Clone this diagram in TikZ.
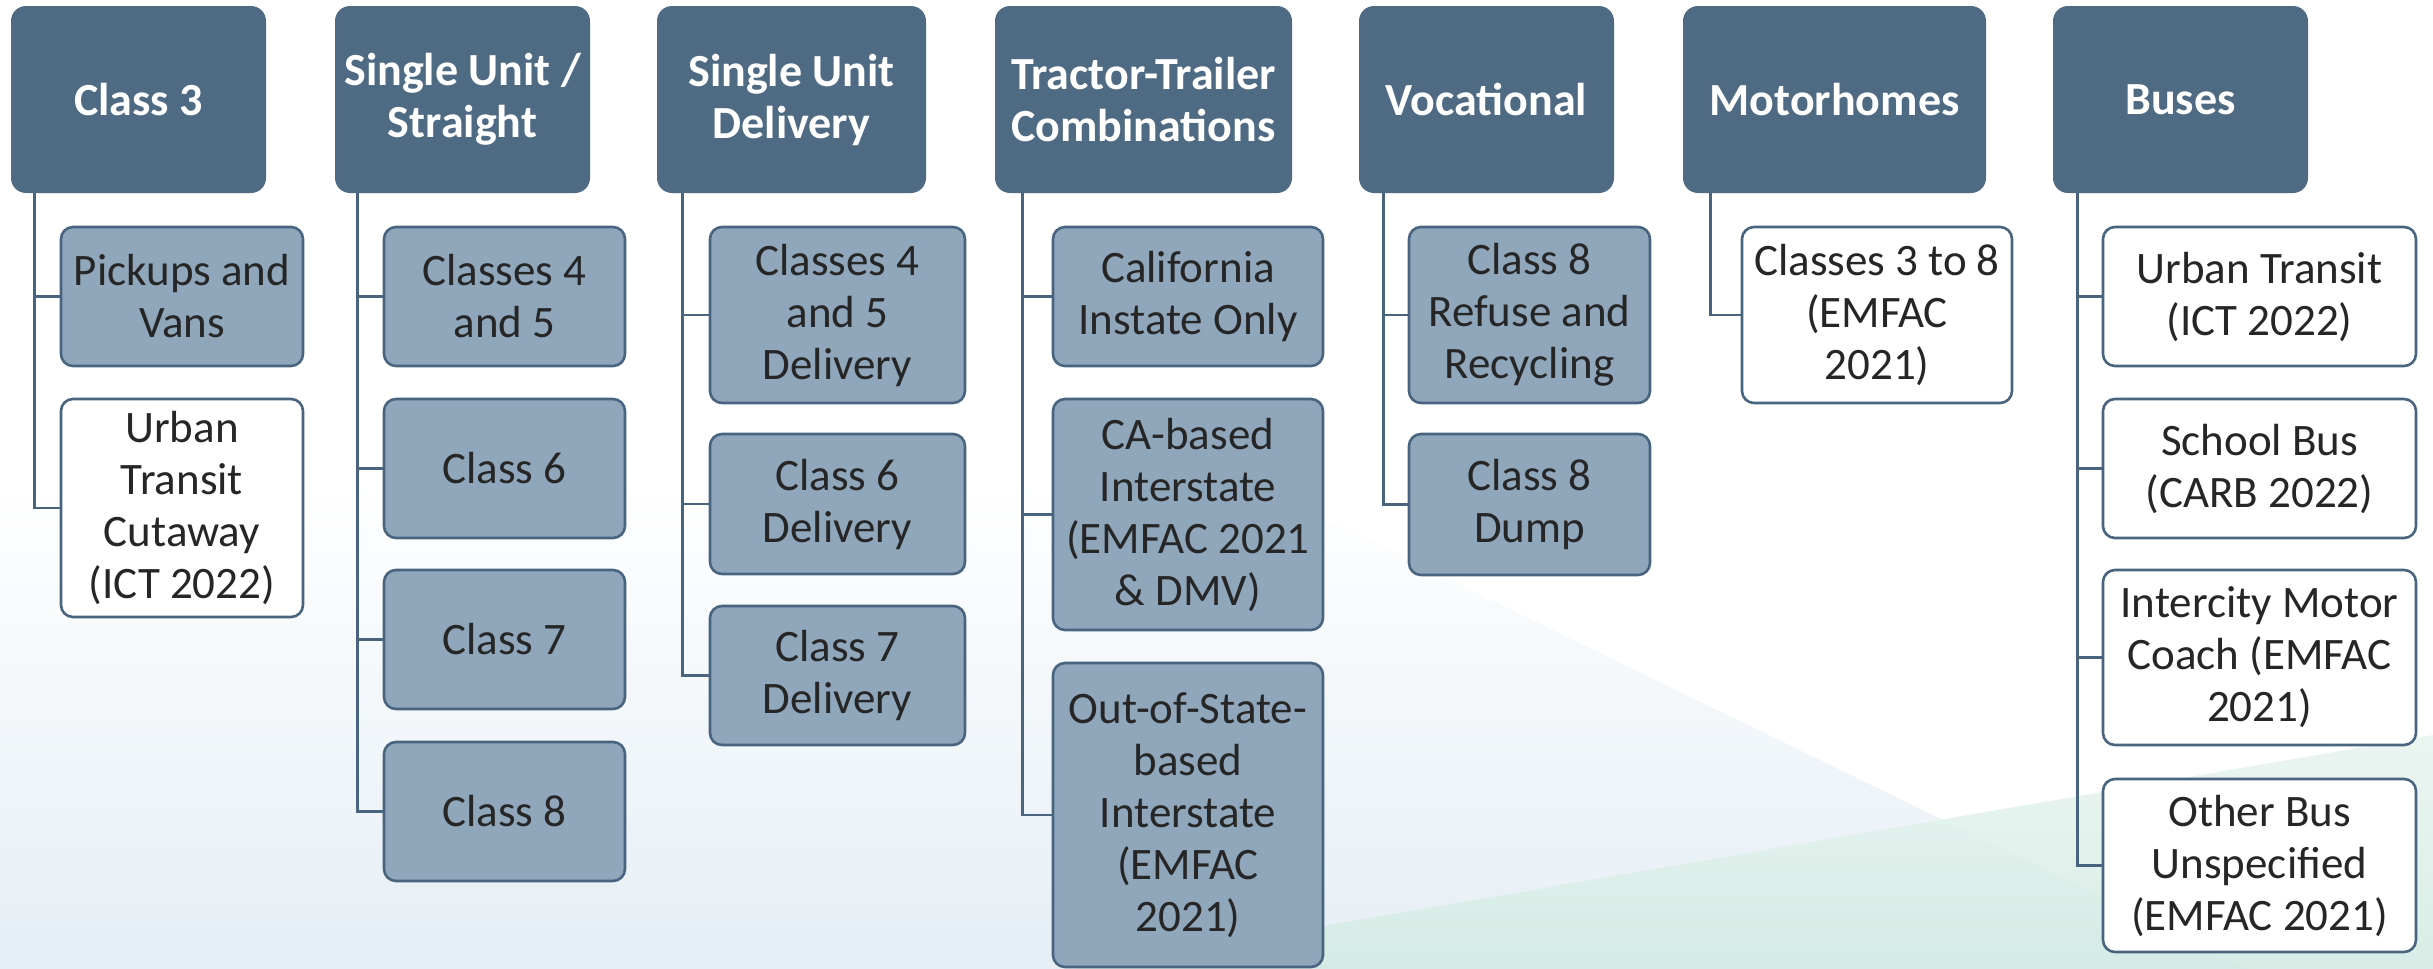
\documentclass[tikz,border=0pt]{standalone}
\usepackage{fontspec}
\setmainfont{Carlito}
\definecolor{hdrblue}{HTML}{4F6A83}
\definecolor{leafblue}{HTML}{8FA6BB}
\definecolor{edgeblue}{HTML}{48647E}
\definecolor{inkgray}{HTML}{262626}
\definecolor{mistblue}{HTML}{E5EEF5}
\definecolor{mintlo}{HTML}{D2EBE3}
\definecolor{minthi}{HTML}{E8F4EF}

\begin{document}
\begin{tikzpicture}[x=0.5pt, y=-0.5pt,
    hdr/.style={draw=none, fill=hdrblue, rounded corners=7.5pt, minimum height=93.5pt, inner sep=0pt, align=center, text=white, font=\fontsize{23}{26}\selectfont\bfseries},
    leaf/.style={draw=edgeblue, line width=1.3pt, fill=leafblue, rounded corners=6pt, inner sep=0pt, align=center, text=inkgray, font=\fontsize{22.5}{26}\selectfont},
    leafw/.style={leaf, fill=white},
    link/.style={draw=edgeblue, line width=1.4pt}]
            \useasboundingbox (0,0) rectangle (2433,969);
            \fill[white] (0,0) rectangle (2433,969);
            \shade[top color=white, bottom color=mistblue] (0,480) -- (1245,480) -- (2249,969) -- (0,969) -- cycle;
            \shade[top color=minthi, bottom color=mintlo, fill opacity=0.85] (1074,969) -- (2433,735) -- (2433,969) -- cycle;

            \node[hdr, minimum width=127.5pt] (c3) at (138.5,99.5) {Class 3};
            \node[hdr, minimum width=127.5pt] (sus) at (462.5,99.5) {Single Unit /\\Straight};
            \node[hdr, minimum width=134.5pt] (sud) at (791.5,99.5) {Single Unit\\Delivery};
            \node[hdr, minimum width=148.5pt] (tt) at (1143.5,99.5) {Tractor-Trailer\\Combinations};
            \node[hdr, minimum width=127.5pt] (voc) at (1486.5,99.5) {Vocational};
            \node[hdr, minimum width=151.5pt] (mh) at (1834.5,99.5) {Motorhomes};
            \node[hdr, minimum width=127.5pt] (bus) at (2180.5,99.5) {Buses};

            \node[leaf, minimum width=121pt, minimum height=69.5pt] (c3a) at (182,296.5) {Pickups and\\Vans};
            \node[leafw, minimum width=121pt, minimum height=109pt] (c3b) at (182,508) {Urban\\Transit\\Cutaway\\(ICT 2022)};

            \node[leaf, minimum width=120.5pt, minimum height=69.5pt] (sus1) at (504.5,296.5) {Classes 4\\and 5};
            \node[leaf, minimum width=120.5pt, minimum height=69.5pt] (sus2) at (504.5,468.5) {Class 6};
            \node[leaf, minimum width=120.5pt, minimum height=69.5pt] (sus3) at (504.5,639.5) {Class 7};
            \node[leaf, minimum width=120.5pt, minimum height=69.5pt] (sus4) at (504.5,811.5) {Class 8};

            \node[leaf, minimum width=127.5pt, minimum height=88pt] (sud1) at (837.5,315) {Classes 4\\and 5\\Delivery};
            \node[leaf, minimum width=127.5pt, minimum height=70pt] (sud2) at (837.5,504) {Class 6\\Delivery};
            \node[leaf, minimum width=127.5pt, minimum height=69.5pt] (sud3) at (837.5,675.5) {Class 7\\Delivery};

            \node[leaf, minimum width=135pt, minimum height=69.5pt] (tt1) at (1188,296.5) {California\\Instate Only};
            \node[leaf, minimum width=135pt, minimum height=115.5pt] (tt2) at (1188,514.5) {CA-based\\Interstate\\(EMFAC 2021\\\& DMV)};
            \node[leaf, minimum width=135pt, minimum height=152pt] (tt3) at (1188,815) {Out-of-State-\\based\\Interstate\\(EMFAC\\2021)};

            \node[leaf, minimum width=120.5pt, minimum height=88pt] (voc1) at (1529.5,315) {Class 8\\Refuse and\\Recycling};
            \node[leaf, minimum width=120.5pt, minimum height=70.5pt] (voc2) at (1529.5,504.5) {Class 8\\Dump};

            \node[leafw, minimum width=135pt, minimum height=88pt] (mh1) at (1877,315) {Classes 3 to 8\\(EMFAC\\2021)};

            \node[leafw, minimum width=156.5pt, minimum height=69.5pt] (bus1) at (2259.5,296.5) {Urban Transit\\(ICT 2022)};
            \node[leafw, minimum width=156.5pt, minimum height=69.5pt] (bus2) at (2259.5,468.5) {School Bus\\(CARB 2022)};
            \node[leafw, minimum width=156.5pt, minimum height=87.5pt] (bus3) at (2259.5,657.5) {Intercity Motor\\Coach (EMFAC\\2021)};
            \node[leafw, minimum width=156.5pt, minimum height=86.5pt] (bus4) at (2259.5,865.5) {Other Bus\\Unspecified\\(EMFAC 2021)};

            \foreach \k in {c3a,c3b} \draw[link] ([xshift=12pt]c3.south west) |- (\k.west);
            \foreach \k in {sus1,sus2,sus3,sus4} \draw[link] ([xshift=11.5pt]sus.south west) |- (\k.west);
            \foreach \k in {sud1,sud2,sud3} \draw[link] ([xshift=13pt]sud.south west) |- (\k.west);
            \foreach \k in {tt1,tt2,tt3} \draw[link] ([xshift=14pt]tt.south west) |- (\k.west);
            \foreach \k in {voc1,voc2} \draw[link] ([xshift=12.5pt]voc.south west) |- (\k.west);
            \draw[link] ([xshift=14pt]mh.south west) |- (mh1.west);
            \foreach \k in {bus1,bus2,bus3,bus4} \draw[link] ([xshift=12.5pt]bus.south west) |- (\k.west);

        \end{tikzpicture}
\end{document}
